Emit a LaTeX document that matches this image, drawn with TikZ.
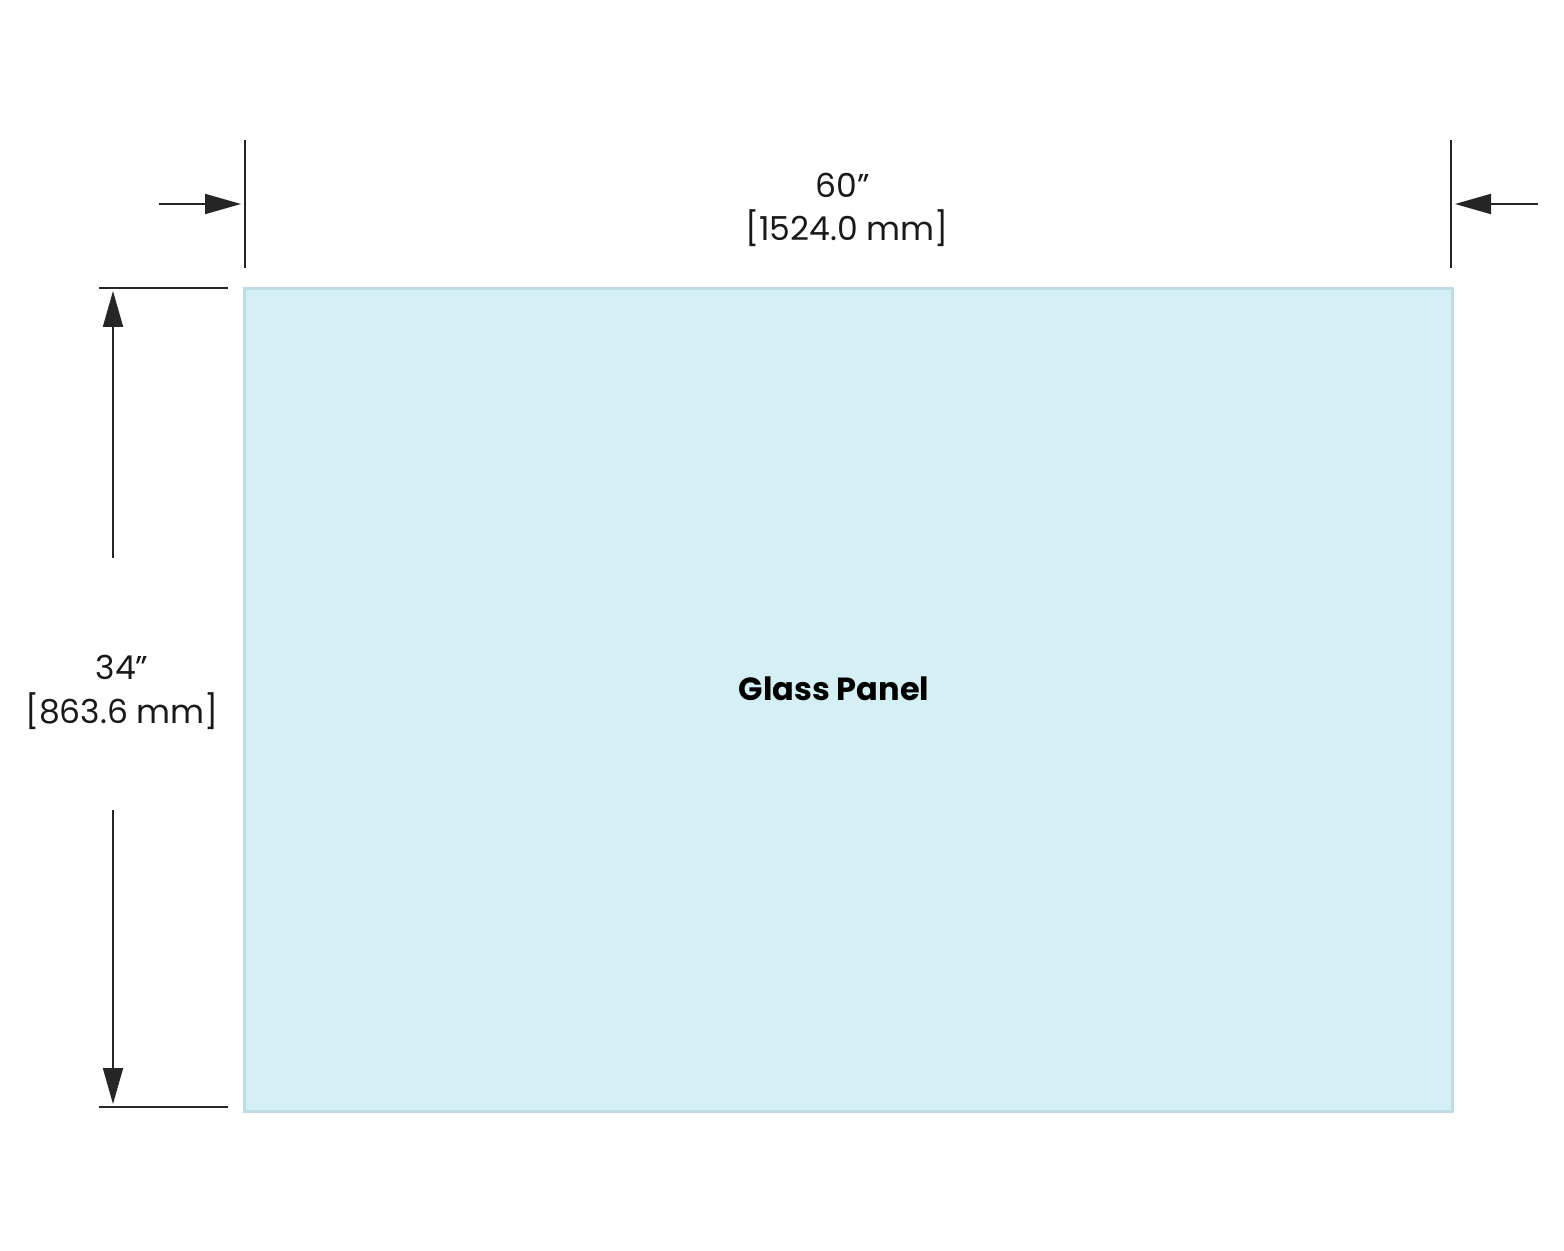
\documentclass[tikz,border=0pt]{standalone}
\usepackage{fontspec}
\setmainfont{Poppins}
\usetikzlibrary{arrows.meta}
\definecolor{glass}{HTML}{D4F0F5}
\definecolor{glassedge}{HTML}{BFDCE2}
\tikzset{
	dimline/.style = {line width=1pt, draw=black!85},
	dimarrow/.style = {dimline, -{Triangle[length=18pt, width=10pt]}},
	dimtext/.style = {font=\fontsize{16.5}{20}\selectfont, text=black!90, inner sep=0pt}
}
\begin{document}
\begin{tikzpicture}[x=0.5pt, y=-0.5pt]
	\useasboundingbox (0,0) rectangle (1564,1251);
	\node (P) at (848, 700) [draw=glassedge, line width=1.5pt, fill=glass, minimum width=604pt, minimum height=411pt, inner sep=0pt] {};
	\node (PL) at (834, 689) [font=\fontsize{16}{19}\selectfont\bfseries, inner sep=0pt] {Glass Panel};
	% width
	\coordinate (WL1) at (245, 140);	\coordinate (WL2) at (245, 268);
	\coordinate (WR1) at (1451, 140);	\coordinate (WR2) at (1451, 268);
	\coordinate (WA1) at (159, 204);	\coordinate (WA2) at (241, 204);
	\coordinate (WB1) at (1538, 204);	\coordinate (WB2) at (1455, 204);
	\draw[dimline] (WL1) -- (WL2);
	\draw[dimline] (WR1) -- (WR2);
	\draw[dimarrow] (WA1) -- (WA2);
	\draw[dimarrow] (WB1) -- (WB2);
	\node (W1) at (843, 185) [dimtext] {60”};
	\node (W2) at (847, 228) [dimtext] {[1524.0 mm]};
	% height
	\coordinate (HT1) at (99, 288);	\coordinate (HT2) at (228, 288);
	\coordinate (HB1) at (99, 1107);	\coordinate (HB2) at (228, 1107);
	\coordinate (HA1) at (113, 558);	\coordinate (HA2) at (113, 291);
	\coordinate (HB3) at (113, 810);	\coordinate (HB4) at (113, 1104);
	\draw[dimline] (HT1) -- (HT2);
	\draw[dimline] (HB1) -- (HB2);
	\draw[dimarrow] (HA1) -- (HA2);
	\draw[dimarrow] (HB3) -- (HB4);
	\node (H1) at (122, 667) [dimtext] {34”};
	\node (H2) at (122, 711) [dimtext] {[863.6 mm]};
\end{tikzpicture}
\end{document}
